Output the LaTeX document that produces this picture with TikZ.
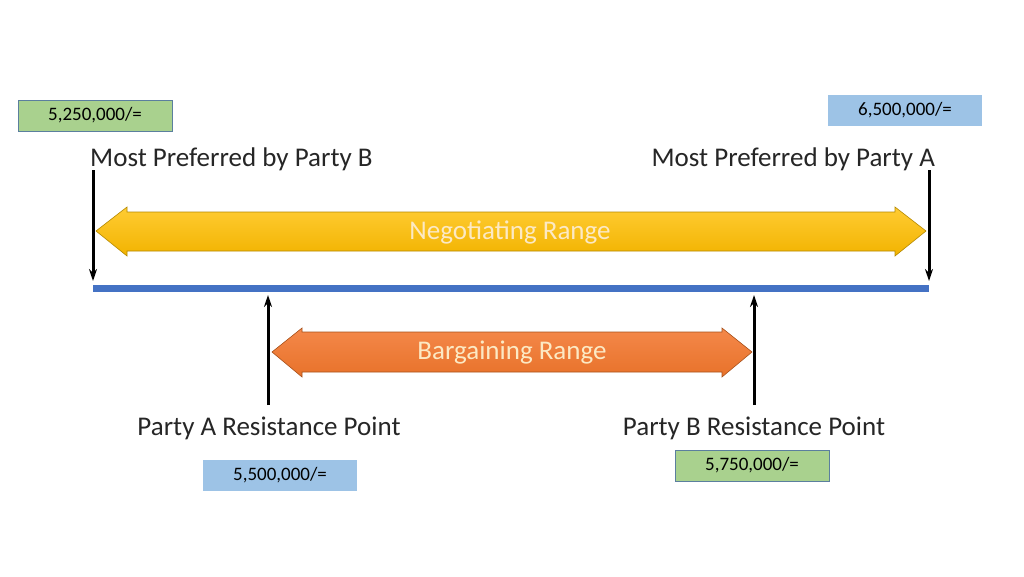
\documentclass[tikz,border=0pt]{standalone}
\usepackage{fontspec}
\setmainfont{Carlito}
\usetikzlibrary{arrows.meta}
\begin{document}
\begin{tikzpicture}[x=1pt,y=-1pt,
  valbox/.style={minimum width=154pt,minimum height=31pt,inner sep=0pt,font=\fontsize{19}{22}\selectfont},
  greenbox/.style={valbox,fill=boxgreen,draw=boxedge,line width=0.8pt},
  bluebox/.style={valbox,fill=boxblue},
  lbl/.style={inner sep=0pt,text=labelgray,font=\fontsize{27}{32}\selectfont},
  pointer/.style={line width=3pt,-{Stealth[length=12pt,width=8pt]}},
  rangetxt/.style={inner sep=0pt,text=rangetext,font=\fontsize{27}{32}\selectfont}]
\definecolor{boxgreen}{HTML}{A9D18E}
\definecolor{boxblue}{HTML}{9DC3E6}
\definecolor{boxedge}{HTML}{5B7F9E}
\definecolor{labelgray}{HTML}{262626}
\definecolor{baseblue}{HTML}{4472C4}
\definecolor{goldtop}{HTML}{FFCC33}
\definecolor{goldbot}{HTML}{F2B300}
\definecolor{goldedge}{HTML}{B58900}
\definecolor{orangetop}{HTML}{F4884A}
\definecolor{orangebot}{HTML}{E8722A}
\definecolor{orangeedge}{HTML}{A9521C}
\definecolor{rangetext}{HTML}{FCE9C4}
\useasboundingbox (0,0) rectangle (1024,576);
\fill[white] (0,0) rectangle (1024,576);

% value boxes
\node[greenbox] (vB) at (95,115.5) {5,250,000/=};
\node[bluebox] (vA) at (905,110.5) {6,500,000/=};
\node[bluebox] (vRA) at (280,475.5) {5,500,000/=};
\node[greenbox] (vRB) at (752,465.5) {5,750,000/=};

% labels
\node[lbl,anchor=west] (mpB) at (90,159) {Most Preferred by Party B};
\node[lbl,anchor=east] (mpA) at (935,159) {Most Preferred by Party A};
\node[lbl] (rpA) at (269,428) {Party A Resistance Point};
\node[lbl] (rpB) at (754,428) {Party B Resistance Point};

% base line
\coordinate (L) at (93,288);
\coordinate (R) at (929,288);
\draw[baseblue,line width=7pt] (L) -- (R);

% negotiating range arrow
\draw[goldedge,line width=0.6pt,top color=goldtop,bottom color=goldbot]
  (96,231) -- (127,207) -- (127,212) -- (895,212) -- (895,207) -- (926,231)
  -- (895,256) -- (895,251) -- (127,251) -- (127,256) -- cycle;
\node[rangetxt] (neg) at (510,232) {Negotiating Range};

% bargaining range arrow
\draw[orangeedge,line width=0.6pt,top color=orangetop,bottom color=orangebot]
  (272,352) -- (302,328) -- (302,332) -- (722,332) -- (722,328) -- (752,352)
  -- (722,377) -- (722,372) -- (302,372) -- (302,377) -- cycle;
\node[rangetxt] (barg) at (512,353) {Bargaining Range};

% pointers
\coordinate (tB) at (93,170);
\coordinate (hB) at (93,281);
\coordinate (tA) at (929,170);
\coordinate (hA) at (929,281);
\coordinate (bA) at (268,405);
\coordinate (uA) at (268,295);
\coordinate (bB) at (754,405);
\coordinate (uB) at (754,295);
\draw[pointer] (tB) -- (hB);
\draw[pointer] (tA) -- (hA);
\draw[pointer] (bA) -- (uA);
\draw[pointer] (bB) -- (uB);
\end{tikzpicture}
\end{document}
